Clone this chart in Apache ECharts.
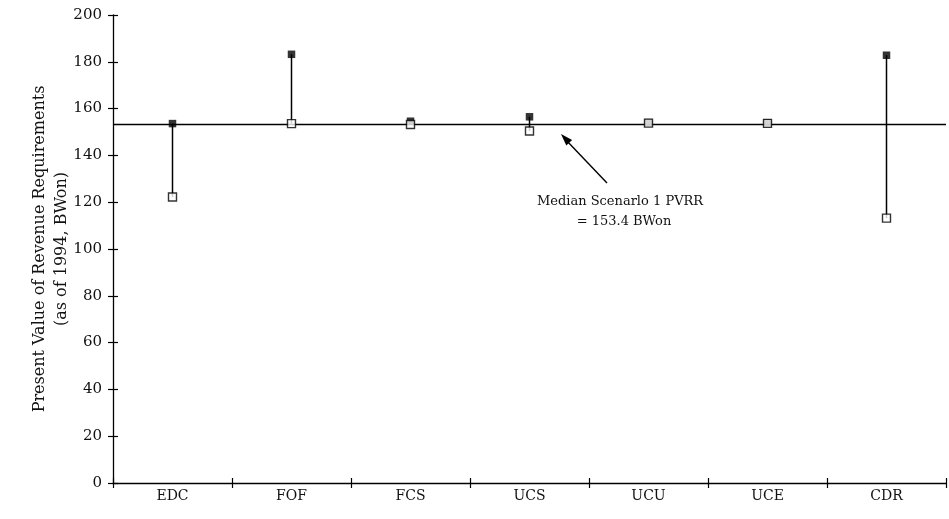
<!DOCTYPE html>
<html><head><meta charset="utf-8">
<script src="https://cdn.jsdelivr.net/npm/echarts@6/dist/echarts.min.js"></script>
<style>html,body{margin:0;padding:0;background:#fff}#c{width:949px;height:519px}</style>
</head><body><div id="c"></div>
<script>
const categories = ['EDC','FOF','FCS','UCS','UCU','UCE','CDR'];
const highValues = [153.6, 183.2, 154.6, 156.5, 154.0, 153.9, 182.8];
const lowValues  = [122.2, 153.6, 153.2, 150.4, 153.8, 153.7, 113.2];
const medianValue = 153.4;
const yTicks = [0,20,40,60,80,100,120,140,160,180,200];

const FONT = 'DejaVu Serif';
const chart = echarts.init(document.getElementById('c'));
const clear = 'rgba(0,0,0,0)';
chart.setOption({
  animation:false,
  backgroundColor:'#fff',
  grid: {left:113, right:3, top:15, bottom:36, containLabel:false, outerBoundsMode:'none'},
  xAxis: [{
    type:'category', data:categories, boundaryGap:true,
    axisLine:{lineStyle:{color:'#000',width:1.3}},
    axisTick:{show:true, length:5, lineStyle:{color:'#000',width:1.2}},
    axisLabel:{color:'#111', fontFamily:FONT, fontSize:14, margin:6},
    splitLine:{show:false}
  },{
    type:'category', data:categories, boundaryGap:true, position:'bottom', offset:0,
    axisLine:{show:true, lineStyle:{color:clear}},
    axisTick:{show:true, inside:true, length:5, lineStyle:{color:'#000',width:1.2}},
    axisLabel:{show:false}, splitLine:{show:false}
  }],
  yAxis: [{
    type:'value', min:0, max:200, interval:20,
    name:'Present Value of Revenue Requirements\n(as of 1994, BWon)',
    nameLocation:'middle', nameGap:40, nameRotate:90, nameMoveOverlap:false,
    nameTextStyle:{color:'#111', fontFamily:FONT, fontSize:16, lineHeight:22},
    axisLine:{show:true, lineStyle:{color:'#000',width:1.3}},
    axisTick:{show:true, length:5, lineStyle:{color:'#000',width:1.2}},
    axisLabel:{color:'#111', fontFamily:FONT, fontSize:15, margin:11},
    splitLine:{show:false}
  },{
    type:'value', min:0, max:200, interval:20, position:'left', offset:0,
    axisLine:{show:true, lineStyle:{color:clear}},
    axisTick:{show:true, inside:true, length:5, lineStyle:{color:'#000',width:1.2}},
    axisLabel:{show:false}, splitLine:{show:false}
  }],
  series: [
    {
      type:'custom', name:'range', z:2,
      renderItem: function(params, api){
        const i = api.value(0);
        const p1 = api.coord([i, api.value(1)]);
        const p2 = api.coord([i, api.value(2)]);
        return {type:'line', shape:{x1:p1[0],y1:p1[1],x2:p2[0],y2:p2[1]},
          style:{stroke:'#000', lineWidth:1.5}};
      },
      data: categories.map((c,i)=>[i, highValues[i], lowValues[i]]),
      encode:{x:0, y:[1,2]},
      markLine:{
        silent:true, symbol:['none','none'], label:{show:false},
        lineStyle:{color:'#000', width:1.3, type:'solid'},
        data:[{yAxis:medianValue}]
      }
    },
    {
      type:'scatter', name:'high', z:4, symbol:'rect', symbolSize:7.5,
      itemStyle:{color:'#000'},
      data: highValues.map((v,i)=>[i,v])
    },
    {
      type:'scatter', name:'low', z:5, symbol:'rect', symbolSize:8,
      itemStyle:{color:'#fff', borderColor:'#000', borderWidth:1.4},
      data: lowValues.map((v,i)=>[i,v])
    },
    {
      type:'scatter', xAxisIndex:1, yAxisIndex:1, data:[], silent:true
    }
  ],
  graphic: [
    {type:'line', shape:{x1:607,y1:183,x2:566,y2:140}, style:{stroke:'#000', lineWidth:1.4}},
    {type:'polygon', shape:{points:[[561,134],[572.1,140.1],[566.3,145.5]]}, style:{fill:'#000'}},
    {type:'text', style:{text:'Median Scenarlo 1 PVRR', x:620, y:195, textAlign:'center', fill:'#111', font:'13px "DejaVu Serif"'}},
    {type:'text', style:{text:'= 153.4 BWon', x:624, y:215, textAlign:'center', fill:'#111', font:'13px "DejaVu Serif"'}}
  ]
});
</script></body></html>
